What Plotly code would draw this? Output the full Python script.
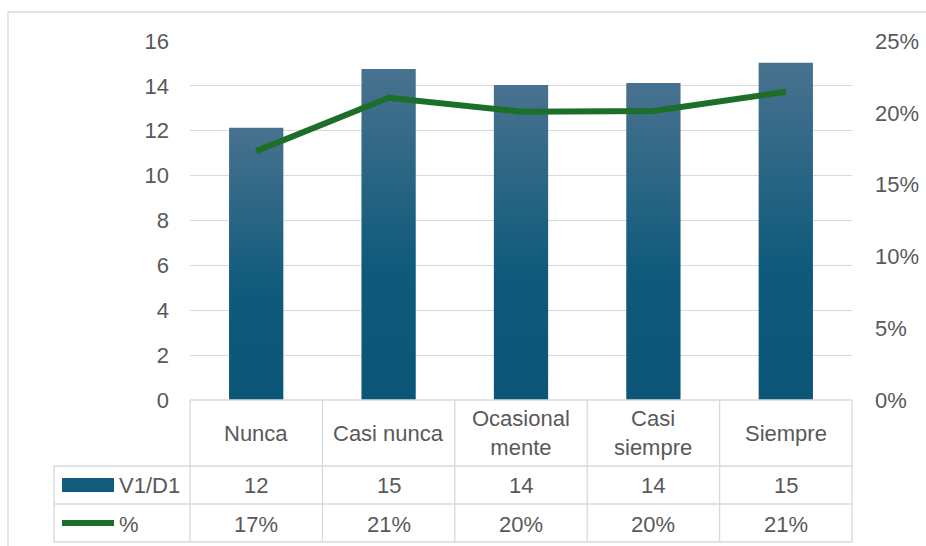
import plotly.graph_objects as go

W, H = 926, 546

categories = ["Nunca", "Casi nunca", "Ocasionalmente", "Casi siempre", "Siempre"]
category_labels = ["Nunca", "Casi nunca", "Ocasional<br>mente", "Casi<br>siempre", "Siempre"]
counts = [12.13, 14.75, 14.04, 14.13, 15.03]
shares = [0.1733, 0.2105, 0.2008, 0.2013, 0.2146]
bar_name = "V1/D1"
line_name = "%"

_TEXT = "#595959"
_GRID = "#D9D9D9"
_LINE = "#1C6E28"
_FONT = "Liberation Sans, Arial, sans-serif"
_FS = 22

# plot area in page pixels
PL, PR, PT, PB = 190, 852, 41, 400
ROW1, ROW2, ROW3 = 466, 504, 542
LEG_L = 54


def px(x):
    return x / W


def py(y):
    return 1 - y / H


fig = go.Figure()

bar_w = 0.41
for i, v in enumerate(counts):
    x0, x1 = i - bar_w / 2, i + bar_w / 2
    fig.add_trace(
        go.Scatter(
            x=[x0, x1, x1, x0, x0],
            y=[0, 0, v, v, 0],
            mode="lines",
            line={"width": 0},
            fill="toself",
            fillgradient={
                "type": "vertical",
                "colorscale": [[0, "#0B5677"], [0.4, "#0F5A7B"], [1, "#48728F"]],
            },
            hoverinfo="skip",
            showlegend=False,
        )
    )

fig.add_trace(
    go.Scatter(
        x=list(range(len(categories))),
        y=shares,
        yaxis="y2",
        mode="lines",
        line={"color": _LINE, "width": 6},
        showlegend=False,
    )
)

shapes = []


def hline(y, xa, xb):
    shapes.append(dict(type="line", xref="paper", yref="paper", x0=px(xa), x1=px(xb),
                       y0=py(y), y1=py(y), line={"color": _GRID, "width": 1.3}))


def vline(x, ya, yb):
    shapes.append(dict(type="line", xref="paper", yref="paper", x0=px(x), x1=px(x),
                       y0=py(ya), y1=py(yb), line={"color": _GRID, "width": 1.3}))


# outer chart border (top and left edges are the only ones in view)
hline(12, 8, 960)
vline(8, 12, 580)

hline(PB, PL, PR)
for y in (ROW1, ROW2, ROW3):
    hline(y, LEG_L, PR)
vline(LEG_L, ROW1, ROW3)
cell = (PR - PL) / len(categories)
for k in range(len(categories) + 1):
    vline(PL + k * cell, PB, ROW3)

# legend keys
shapes.append(dict(type="rect", xref="paper", yref="paper", x0=px(62), x1=px(114),
                   y0=py(492), y1=py(478), fillcolor="#125C7C", line={"width": 0}))
shapes.append(dict(type="line", xref="paper", yref="paper", x0=px(62), x1=px(114),
                   y0=py(523), y1=py(523), line={"color": _LINE, "width": 6}))

annotations = []


def label(text, x, y, xref="x", xanchor="center"):
    annotations.append(dict(text=text, x=x, y=py(y), xref=xref, yref="paper",
                            showarrow=False, xanchor=xanchor, yanchor="middle",
                            font={"color": _TEXT, "size": _FS, "family": _FONT}))


for i, lab in enumerate(category_labels):
    label(lab, i, (PB + ROW1) / 2)
    label(f"{counts[i]:.0f}", i, (ROW1 + ROW2) / 2)
    label(f"{shares[i]:.0%}", i, (ROW2 + ROW3) / 2 + 1)

label(bar_name, px(117), (ROW1 + ROW2) / 2, xref="paper", xanchor="left")
label(line_name, px(117), (ROW2 + ROW3) / 2 + 1, xref="paper", xanchor="left")

fig.update_layout(
    width=W,
    height=H,
    margin=dict(l=0, r=0, t=0, b=0, autoexpand=False),
    plot_bgcolor="white",
    paper_bgcolor="white",
    font={"color": _TEXT, "family": _FONT, "size": _FS},
    showlegend=False,
    shapes=shapes,
    annotations=annotations,
    xaxis=dict(
        domain=[px(PL), px(PR)],
        range=[-0.5, len(categories) - 0.5],
        visible=False,
        automargin=False,
    ),
    yaxis=dict(
        domain=[py(PB), py(PT)],
        range=[0, 16],
        dtick=2,
        showgrid=True,
        gridcolor=_GRID,
        gridwidth=1.3,
        zeroline=False,
        showline=False,
        ticks="",
        ticklabelstandoff=20,
        automargin=False,
        tickfont={"size": _FS, "color": _TEXT},
    ),
    yaxis2=dict(
        domain=[py(PB), py(PT)],
        overlaying="y",
        side="right",
        anchor="x",
        range=[0, 0.25],
        dtick=0.05,
        tickformat=".0%",
        showgrid=False,
        zeroline=False,
        showline=False,
        ticks="",
        ticklabelstandoff=22,
        automargin=False,
        tickfont={"size": _FS, "color": _TEXT},
    ),
)

# put the figure flush with the window corner, no scrollbars
page_css = (
    "document.body.style.margin='0';"
    "document.documentElement.style.overflow='hidden';"
    "document.body.style.overflow='hidden';"
)
fig.write_html("out.html", post_script=page_css, config={"displayModeBar": False})
